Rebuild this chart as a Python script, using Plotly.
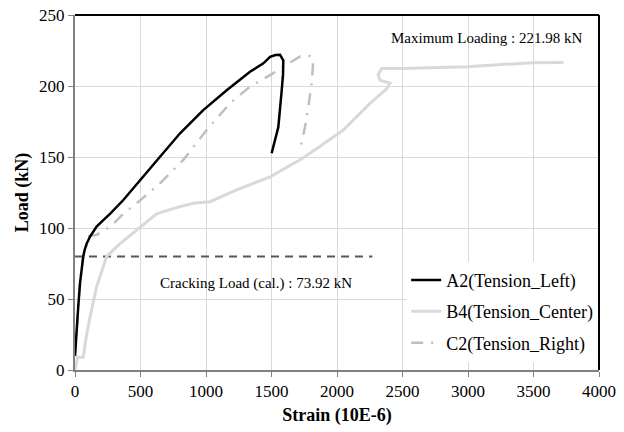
import plotly.graph_objects as go

# Load-strain readings for the three tension gauges
a2_strain = [0, 5, 13, 25, 38, 50, 63, 75, 89, 115, 165, 216, 267, 369, 496, 649, 802,
             979, 1158, 1336, 1438, 1489, 1530, 1565, 1590, 1588, 1578, 1552, 1501]
a2_load = [10, 18, 26, 45, 61, 72, 80, 85, 89, 94, 101, 105.6, 110, 119.7, 133.8, 150.2,
           166.7, 183, 197, 210, 216, 220.5, 221.8, 221.98, 218, 208, 197, 171, 152.6]

b4_strain = [0, 20, 40, 63, 80, 115, 165, 242, 344, 400, 471, 623, 760, 903, 1031, 1234,
             1489, 1718, 1794, 2048, 2252, 2379, 2405, 2330, 2313, 2341, 2506, 2990,
             3499, 3728]
b4_load = [0, 9, 9, 9, 20, 37.5, 58.7, 80, 89, 93, 98.6, 110, 114, 117.4, 118.5, 126.8,
           136, 148, 152.6, 169, 187.8, 198, 202, 204, 207.7, 212.4, 212.4, 213.6,
           216.4, 216.6]

c2_strain = [0, 13, 38, 63, 89, 110, 160, 229, 293, 369, 471, 649, 827, 1005, 1183,
             1336, 1489, 1590, 1654, 1718, 1743, 1794, 1819, 1807, 1781, 1756, 1718]
c2_load = [10, 26, 61, 80, 89, 94.5, 95, 98.6, 103, 110, 117.4, 131.5, 148, 169, 187.8,
           199.6, 207.7, 213.6, 217, 220.8, 221.5, 221, 218.3, 202, 185.4, 171.3, 155]

series_names = ["A2(Tension_Left)", "B4(Tension_Center)", "C2(Tension_Right)"]

crack_strain = [0, 2270]
crack_level = 80
max_text = "Maximum Loading : 221.98 kN"
crack_text = "Cracking Load (cal.) : 73.92 kN"

x_ticks = [0, 500, 1000, 1500, 2000, 2500, 3000, 3500, 4000]
y_ticks = [0, 50, 100, 150, 200, 250]

FONT = "Liberation Serif, Times New Roman, serif"

fig = go.Figure()

fig.add_trace(go.Scatter(
    x=crack_strain, y=[crack_level] * len(crack_strain), mode="lines",
    line=dict(color="#595959", width=2, dash="8px,6px"),
    showlegend=False, hoverinfo="skip"))

fig.add_trace(go.Scatter(
    x=b4_strain, y=b4_load, mode="lines", name=series_names[1],
    legendgroup="b4", legendrank=2,
    line=dict(color="#d9d9d9", width=3)))

fig.add_trace(go.Scatter(
    x=c2_strain, y=c2_load, mode="lines", name=series_names[2],
    legendgroup="c2", legendrank=3,
    line=dict(color="#bfbfbf", width=2.5, dash="12px,8px,2px,8px")))

fig.add_trace(go.Scatter(
    x=a2_strain, y=a2_load, mode="lines", name=series_names[0],
    legendgroup="a2", legendrank=1,
    line=dict(color="#000000", width=2.5)))

# top and right frame edges
fig.add_shape(type="line", xref="paper", yref="paper", x0=0, x1=1, y0=1, y1=1,
              line=dict(color="#000000", width=2))
fig.add_shape(type="line", xref="paper", yref="paper", x0=1, x1=1, y0=0, y1=1,
              line=dict(color="#000000", width=2))

fig.add_annotation(x=3885, y=234, xref="x", yref="y", text=max_text,
                   showarrow=False, xanchor="right",
                   font=dict(family=FONT, size=15, color="#000000"))
fig.add_annotation(x=1380, y=61, xref="x", yref="y", text=crack_text,
                   showarrow=False, xanchor="center",
                   font=dict(family=FONT, size=15, color="#000000"))

fig.update_layout(
    width=624, height=432,
    margin=dict(l=75, r=25, t=15, b=62),
    paper_bgcolor="white", plot_bgcolor="white",
    font=dict(family=FONT, size=17, color="#000000"),
    legend=dict(x=0.632, y=0.305, xanchor="left", yanchor="top",
                bgcolor="white", borderwidth=0,
                traceorder="grouped", itemwidth=30,
                font=dict(family=FONT, size=18), tracegroupgap=5),
    xaxis=dict(range=[0, 4000], tickvals=x_ticks, showgrid=True,
               gridcolor="#d9d9d9", gridwidth=1, zeroline=False,
               showline=True, linecolor="#808080", linewidth=2,
               ticks="outside", ticklen=5, tickcolor="#808080",
               automargin=False,
               title=dict(text="<b>Strain (10E-6)</b>", standoff=8,
                          font=dict(family=FONT, size=18))),
    yaxis=dict(range=[0, 250], tickvals=y_ticks, showgrid=True,
               gridcolor="#d9d9d9", gridwidth=1, zeroline=False,
               showline=True, linecolor="#808080", linewidth=2,
               ticks="outside", ticklen=5, tickcolor="#808080",
               automargin=False,
               title=dict(text="<b>Load (kN)</b>", standoff=6,
                          font=dict(family=FONT, size=18))),
)

fig.write_html("out.html")
